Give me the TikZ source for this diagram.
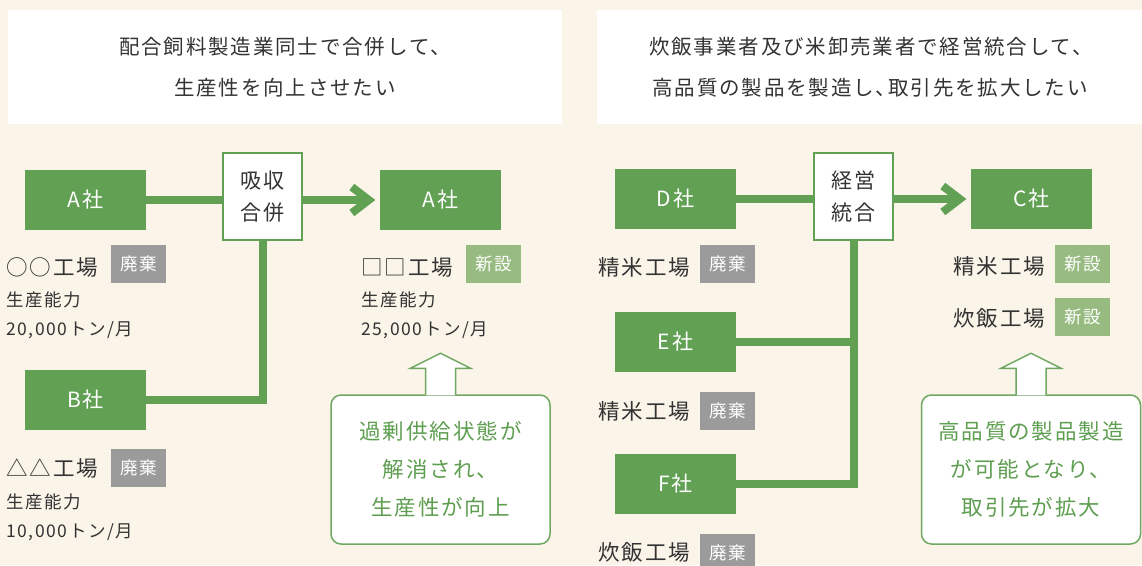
\documentclass[tikz,border=0pt]{standalone}
\usepackage{fontspec}
\setmainfont{Noto Sans CJK JP}[LetterSpace=9]
\usetikzlibrary{calc}
\definecolor{bg}{RGB}{250,244,233}
\definecolor{grn}{RGB}{98,160,84}
\definecolor{lgrn}{RGB}{152,187,130}
\definecolor{gry}{RGB}{155,155,155}
\definecolor{txt}{RGB}{51,51,51}
\definecolor{gtxt}{RGB}{94,158,80}
\definecolor{cborder}{RGB}{112,168,98}
\begin{document}
\begin{tikzpicture}[x=1pt,y=-1pt,
  conn/.style={draw=grn,line width=8pt,line join=miter},
  cbox/.style={fill=grn,text=white,minimum width=121pt,minimum height=60pt,inner sep=0pt,font=\fontsize{21}{24}\selectfont},
  mbox/.style={fill=white,draw=grn,line width=2.5pt,minimum width=79pt,minimum height=87pt,inner sep=0pt,align=center,text=txt,font=\fontsize{21}{32}\selectfont},
  tag/.style={minimum width=55pt,minimum height=38pt,inner sep=0pt,text=white,font=\fontsize{17.5}{19}\selectfont},
  haiki/.style={tag,fill=gry},
  shinsetsu/.style={tag,fill=lgrn},
  fac/.style={anchor=west,inner sep=0pt,text=txt,font=\fontsize{21.5}{24}\selectfont},
  info/.style={anchor=west,inner sep=0pt,text=txt,font=\fontsize{17.5}{20}\selectfont},
  title/.style={text=txt,inner sep=0pt,font=\fontsize{20.5}{22}\selectfont},
  tbox/.style={fill=white,inner sep=0pt,minimum height=114pt},
  callout/.style={fill=white,draw=cborder,line width=1.5pt,rounded corners=10pt,minimum width=219pt,minimum height=149pt,inner sep=0pt,align=center,text=gtxt,font=\fontsize{21.5}{38}\selectfont},
  uparrow/.style={fill=white,draw=cborder,line width=1.5pt,line join=miter}
]
\useasboundingbox (0,0) rectangle (1142,565);
\fill[bg] (0,0) rectangle (1142,565);

% title boxes
\node[tbox,minimum width=554pt] (T1) at (285,67) {};
\node[tbox,minimum width=545pt] (T2) at (869.5,67) {};
\node[title] (t1a) at (285,47) {配合飼料製造業同士で合併して、};
\node[title] (t1b) at (285,88) {生産性を向上させたい};
\node[title] (t2a) at (871,47) {炊飯事業者及び米卸売業者で経営統合して、};
\node[title] (t2b) at (870,88) {高品質の製品を製造し、\kern-8pt取引先を拡大したい};

% ---------- left panel ----------
\node[cbox] (A1) at (85.5,200) {A社};
\node[cbox] (B) at (85.5,400) {B社};
\node[cbox] (A2) at (440.5,200) {A社};
\node[mbox] (M1) at (262.5,196.5) {吸収\\合併};

\draw[conn] (A1.east) -- (A1.east -| M1.west);
\draw[conn] (M1.east |- A1.east) -- ($(A2.west)+(-12,0)$);
\draw[conn] ($(A2.west)+(-28,-13)$) -- ($(A2.west)+(-11,0)$) -- ($(A2.west)+(-28,13)$);
\draw[conn] (M1.south) |- (B.east);

\node[fac] (f1) at (6,267) {○○工場};
\node[haiki] (h1) at (138.5,264) {廃棄};
\node[info] (i1) at (6,300) {生産能力};
\node[info] (i2) at (6,330) {20,000トン/月};

\node[fac] (f2) at (6,468) {△△工場};
\node[haiki] (h2) at (138.5,468) {廃棄};
\node[info] (i3) at (6,502) {生産能力};
\node[info] (i4) at (6,532) {10,000トン/月};

\node[fac] (f3) at (361,267) {□□工場};
\node[shinsetsu] (s1) at (493.5,264) {新設};
\node[info] (i5) at (361,300) {生産能力};
\node[info] (i6) at (361,330) {25,000トン/月};

\node[callout] (cb1) at (440.5,469.5) {過剰供給状態が\\解消され、\\生産性が向上};
\draw[uparrow] ($(cb1.north)+(-15,1)$) -- ($(cb1.north)+(-15,-26)$) -- ($(cb1.north)+(-30,-26)$) -- ($(cb1.north)+(0,-41)$) -- ($(cb1.north)+(30,-26)$) -- ($(cb1.north)+(15,-26)$) -- ($(cb1.north)+(15,1)$);

% ---------- right panel ----------
\node[cbox] (D) at (675.5,199) {D社};
\node[cbox] (E) at (675.5,342) {E社};
\node[cbox] (F) at (675.5,484) {F社};
\node[cbox] (C) at (1031.5,199) {C社};
\node[mbox] (M2) at (853.5,196.5) {経営\\統合};

\draw[conn] (D.east) -- (D.east -| M2.west);
\draw[conn] (M2.east |- D.east) -- ($(C.west)+(-12,0)$);
\draw[conn] ($(C.west)+(-28,-13)$) -- ($(C.west)+(-11,0)$) -- ($(C.west)+(-28,13)$);
\draw[conn] (M2.south) |- (F.east);
\draw[conn] (E.east) -- (E.east -| M2.south);

\node[fac] (f4) at (598,267) {精米工場};
\node[haiki] (h3) at (727.5,264) {廃棄};
\node[fac] (f5) at (598,411) {精米工場};
\node[haiki] (h4) at (727.5,411) {廃棄};
\node[fac] (f6) at (598,552) {炊飯工場};
\node[haiki] (h5) at (727.5,553) {廃棄};

\node[fac] (f7) at (953,266) {精米工場};
\node[shinsetsu] (s2) at (1082.5,264) {新設};
\node[fac] (f8) at (953,318) {炊飯工場};
\node[shinsetsu] (s3) at (1082.5,317) {新設};

\node[callout] (cb2) at (1031,469.5) {高品質の製品製造\\が可能となり、\\取引先が拡大};
\draw[uparrow] ($(cb2.north)+(-15,1)$) -- ($(cb2.north)+(-15,-26)$) -- ($(cb2.north)+(-30,-26)$) -- ($(cb2.north)+(0,-41)$) -- ($(cb2.north)+(30,-26)$) -- ($(cb2.north)+(15,-26)$) -- ($(cb2.north)+(15,1)$);
\end{tikzpicture}
\end{document}
